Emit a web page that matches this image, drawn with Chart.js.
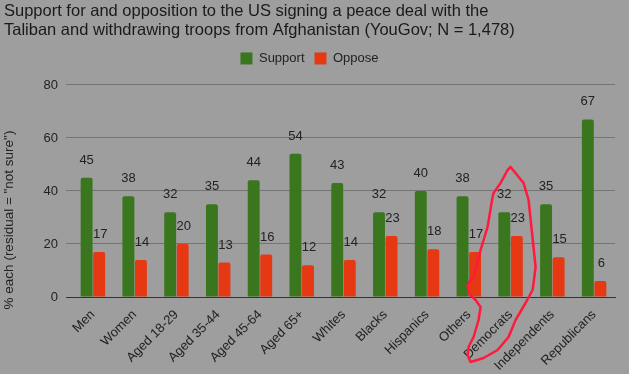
<!DOCTYPE html>
<html>
<head>
<meta charset="utf-8">
<script src="https://cdn.jsdelivr.net/npm/chart.js@4"></script>
<style>
  html, body { margin: 0; padding: 0; background: #9e9e9e; }
  #wrap { width: 629px; height: 374px; }
</style>
</head>
<body>
<div id="wrap"><canvas id="myChart" width="629" height="374"></canvas></div>
<script>
const groups = ['Men', 'Women', 'Aged 18-29', 'Aged 35-44', 'Aged 45-64', 'Aged 65+', 'Whites',
    'Blacks', 'Hispanics', 'Others', 'Democrats', 'Independents', 'Republicans'];
const support = [45, 38, 32, 35, 44, 54, 43, 32, 40, 38, 32, 35, 67];
const oppose = [17, 14, 20, 13, 16, 12, 14, 23, 18, 17, 23, 15, 6];
const yTicks = [0, 20, 40, 60, 80];
const yTitle = '% each (residual = "not sure")';

// the red hand-drawn loop, as pixel offsets from the Democrats tick / zero line
const circled = 'Democrats';
const loop = [[0, -130], [13, -114], [18, -97], [25, -30], [23, -14], [22, -7], [15, 6], [5, 23], [-2, 40],
    [-13, 53], [-27, 61], [-40, 65], [-43, 58], [-42, 50], [-37, 40], [-32, 23], [-30, 10], [-35, 3],
    [-42, -4], [-43, -12], [-40, -17], [-37, -20], [-30, -47], [-23, -70], [-18, -100], [-17, -104],
    [-10, -114], [-3, -127], [0, -130]];

const font = "'Liberation Sans', Arial, sans-serif";
const ink = '#222';

const barLabels = {
    id: 'barLabels',
    afterDatasetsDraw(chart) {
        const c = chart.ctx;
        c.save();
        c.font = '13px ' + font;
        c.fillStyle = ink;
        c.textAlign = 'center';
        c.textBaseline = 'bottom';
        chart.data.datasets.forEach((ds, i) => {
            chart.getDatasetMeta(i).data.forEach((bar, j) => {
                c.fillText(ds.data[j], bar.x + (i == 0 ? 0 : 1), bar.y - 11);
            });
        });
        c.restore();
    }
};

// y title sits a bit lower than the plot centre in the original
const sideTitle = {
    id: 'sideTitle',
    afterDraw(chart) {
        const c = chart.ctx;
        c.save();
        c.translate(9, 220);
        c.rotate(-Math.PI / 2);
        c.font = '13.5px ' + font;
        c.fillStyle = ink;
        c.textAlign = 'center';
        c.textBaseline = 'middle';
        c.fillText(yTitle, 0, 0);
        c.restore();
    }
};

const legendGap = {
    id: 'legendGap',
    beforeInit(chart) {
        const fit = chart.legend.fit;
        chart.legend.fit = function () {
            fit.bind(chart.legend)();
            this.height += 10;
        };
    }
};

const scribble = {
    id: 'scribble',
    afterDraw(chart) {
        const c = chart.ctx;
        const cx = chart.scales.x.getPixelForValue(groups.indexOf(circled));
        const cy = chart.scales.y.getPixelForValue(0);
        c.save();
        c.strokeStyle = '#ff1a3c';
        c.lineWidth = 2.5;
        c.lineJoin = 'round';
        c.lineCap = 'round';
        c.beginPath();
        loop.forEach((p, k) => {
            if (k == 0) c.moveTo(cx + p[0], cy + p[1]);
            else c.lineTo(cx + p[0], cy + p[1]);
        });
        c.stroke();
        c.restore();
    }
};

const ctx = document.getElementById('myChart');
new Chart(ctx, {
    type: 'bar',
    data: {
        labels: groups,
        datasets: [{
                label: 'Support',
                data: support,
                backgroundColor: '#3a761e',
                borderRadius: 2,
                borderSkipped: 'bottom'
            },
            {
                label: 'Oppose',
                data: oppose,
                backgroundColor: '#e63812',
                borderRadius: 2,
                borderSkipped: 'bottom'
            }
        ]
    },
    options: {
        responsive: false,
        animation: false,
        datasets: {
            bar: { categoryPercentage: 0.6, barPercentage: 0.95 }
        },
        layout: { padding: { left: 4, right: 14, top: 2, bottom: 0 } },
        plugins: {
            title: {
                display: true,
                text: ['Support for and opposition to the US signing a peace deal with the',
                    'Taliban and withdrawing troops from Afghanistan (YouGov; N = 1,478)'],
                align: 'start',
                color: '#1a1a1a',
                font: { family: font, size: 16.5, weight: 'normal', lineHeight: 1.15 },
                padding: { top: 0, bottom: 2 }
            },
            legend: {
                labels: {
                    color: ink,
                    font: { family: font, size: 13 },
                    boxWidth: 12,
                    boxHeight: 12,
                    padding: 10
                }
            },
            tooltip: { enabled: false }
        },
        scales: {
            x: {
                grid: { display: false },
                border: { color: '#333' },
                afterFit: axis => { axis.height = 77; },
                ticks: {
                    color: ink,
                    font: { family: font, size: 13 },
                    minRotation: 45,
                    maxRotation: 45,
                    padding: 2
                }
            },
            y: {
                min: 0,
                max: 80,
                afterBuildTicks: axis => { axis.ticks = yTicks.map(v => ({ value: v })); },
                afterFit: axis => { axis.width = 68; },
                grid: {
                    color: c => c.tick && c.tick.value == 0 ? '#333' : '#747474',
                    tickLength: 6
                },
                border: { display: false },
                ticks: {
                    color: ink,
                    font: { family: font, size: 13 },
                    padding: 8
                }
            }
        }
    },
    plugins: [legendGap, barLabels, sideTitle, scribble]
});
</script>
</body>
</html>
